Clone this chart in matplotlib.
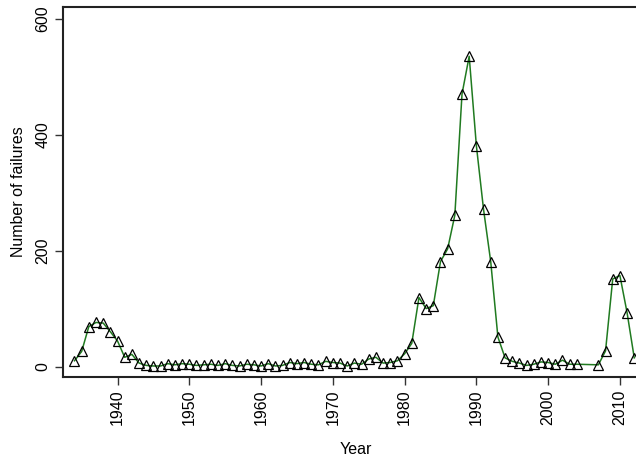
import matplotlib
matplotlib.use("Agg")
import matplotlib.pyplot as plt

years = [1934, 1935, 1936, 1937, 1938, 1939, 1940, 1941, 1942, 1943,
         1944, 1945, 1946, 1947, 1948, 1949, 1950, 1951, 1952, 1953,
         1954, 1955, 1956, 1957, 1958, 1959, 1960, 1961, 1962, 1963,
         1964, 1965, 1966, 1967, 1968, 1969, 1970, 1971, 1972, 1973,
         1974, 1975, 1976, 1977, 1978, 1979, 1980, 1981, 1982, 1983,
         1984, 1985, 1986, 1987, 1988, 1989, 1990, 1991, 1992, 1993,
         1994, 1995, 1996, 1997, 1998, 1999, 2000, 2001, 2002, 2003,
         2004, 2007, 2008, 2009, 2010, 2011, 2012]
failures = [10, 26, 69, 76, 75, 60, 44, 16, 21, 6,
            2, 1, 1, 5, 3, 5, 4, 2, 3, 4,
            2, 5, 2, 1, 4, 3, 1, 5, 1, 2,
            7, 5, 7, 4, 3, 9, 7, 6, 1, 6,
            4, 13, 16, 6, 7, 10, 22, 40, 119, 100,
            105, 181, 203, 261, 470, 535, 381, 271, 181, 51,
            15, 9, 6, 2, 4, 8, 7, 4, 11, 4,
            4, 3, 27, 151, 157, 93, 15]

xticks = [1940, 1950, 1960, 1970, 1980, 1990, 2000, 2010]
yticks = [0, 200, 400, 600]

plt.rcParams['font.family'] = ['Liberation Sans', 'DejaVu Sans']

fig = plt.figure(figsize=(6.36, 4.62), dpi=100)
ax = fig.add_axes([63/636, 85/462, (648.6-63)/636, (377-7)/462])

ax.plot(years, failures, color='#207a20', linewidth=1.1,
        marker='^', markersize=6.5, markerfacecolor='none',
        markeredgecolor='black', markeredgewidth=0.9)

ax.set_xlim(1932.4, 2014.0)
ax.set_ylim(-18, 620)
ax.set_xticks(xticks)
ax.set_yticks(yticks)
ax.set_xticklabels([str(t) for t in xticks], rotation=90, fontsize=11.5)
ax.set_yticklabels([str(t) for t in yticks], rotation=90, fontsize=11.5, va='center')
ax.tick_params(direction='out', length=6, width=1.0, color='#333333', pad=3)
for s in ax.spines.values():
    s.set_linewidth(1.5)
    s.set_color('#222222')
ax.spines['right'].set_visible(False)

ax.set_xlabel('Year', fontsize=11.5, labelpad=12)
ax.set_ylabel('Number of failures', fontsize=11.5, labelpad=7)

fig.savefig('out.png', dpi=100)
